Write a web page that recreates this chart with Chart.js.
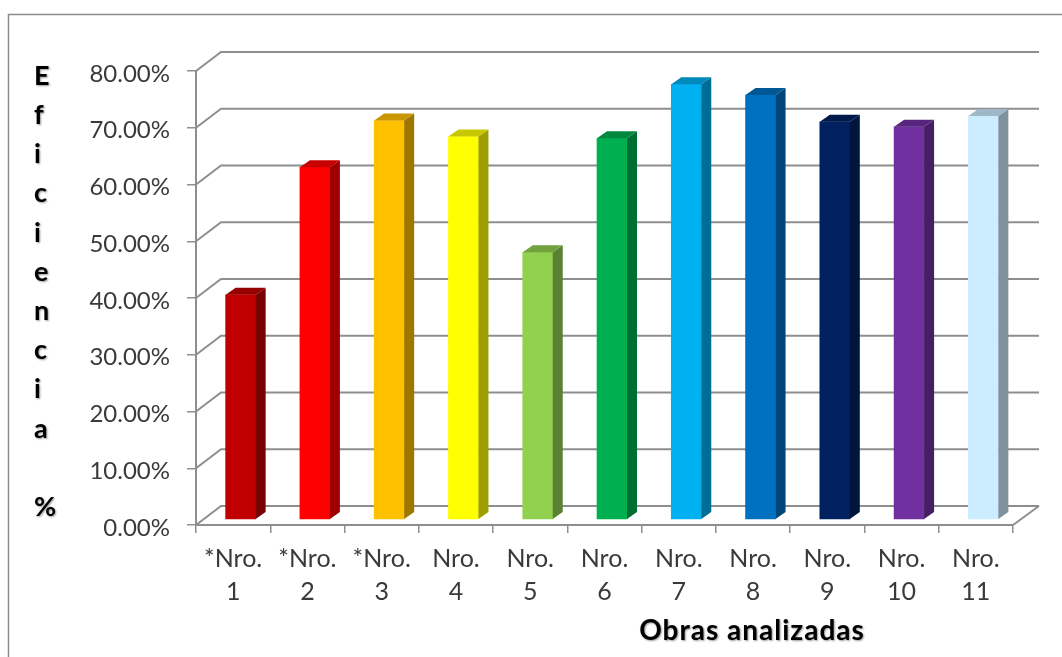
<!DOCTYPE html>
<html>
<head>
<meta charset="utf-8">
<title>Eficiencia</title>
<script src="https://cdn.jsdelivr.net/npm/chart.js@4"></script>
<style>
    html, body { margin: 0; padding: 0; background: #fff; overflow: hidden; }
    canvas { display: block; filter: blur(0.5px); }
</style>
</head>
<body>
<canvas id="barChart" width="1062" height="657"></canvas>
<script>
var categories = [
    ['*Nro.', '1'], ['*Nro.', '2'], ['*Nro.', '3'], ['Nro.', '4'], ['Nro.', '5'], ['Nro.', '6'],
    ['Nro.', '7'], ['Nro.', '8'], ['Nro.', '9'], ['Nro.', '10'], ['Nro.', '11']
];
var efficiency = [39.5, 62, 70.2, 67.4, 47, 67.1, 76.6, 74.7, 70, 69.1, 71];
var barColors = ['#C00000', '#FF0000', '#FFC000', '#FFFF00', '#92D050', '#00B050',
    '#00B0F0', '#0070C0', '#002060', '#7030A0', '#CCECFF'];
var yTitleLetters = ['E', 'f', 'i', 'c', 'i', 'e', 'n', 'c', 'i', 'a', '', '%'];
var xTitle = 'Obras analizadas';

var FONT = 'Lato, sans-serif';
var GRID = '#8e8e8e';

// darken a hex colour for the side and top faces of the bars
function shade(hex, k) {
    var n = parseInt(hex.slice(1), 16);
    var r = Math.round((n >> 16 & 255) * k);
    var g = Math.round((n >> 8 & 255) * k);
    var b = Math.round((n & 255) * k);
    return 'rgb(' + r + ',' + g + ',' + b + ')';
}

function poly(ctx, pts, fill) {
    ctx.beginPath();
    ctx.moveTo(pts[0][0], pts[0][1]);
    for (var i = 1; i < pts.length; i++) {
        ctx.lineTo(pts[i][0], pts[i][1]);
    }
    ctx.closePath();
    ctx.fillStyle = fill;
    ctx.fill();
}

var frame = {
    id: 'frame',
    beforeDraw: function (chart) {
        var ctx = chart.ctx;
        ctx.save();
        ctx.strokeStyle = '#8c8c8c';
        ctx.lineWidth = 1.5;
        ctx.beginPath();
        ctx.moveTo(8.5, 657);
        ctx.lineTo(8.5, 14.5);
        ctx.lineTo(1062, 14.5);
        ctx.stroke();
        ctx.restore();
    }
};

// back wall lines and floor, the flat chart has none of it
var walls = {
    id: 'walls',
    beforeDatasetsDraw: function (chart) {
        var ctx = chart.ctx;
        var area = chart.chartArea;
        var y = chart.scales.y;
        ctx.save();
        ctx.strokeStyle = GRID;
        ctx.lineWidth = 2;
        y.ticks.forEach(function (t) {
            var py = y.getPixelForValue(t.value);
            ctx.beginPath();
            ctx.moveTo(area.left, py);
            ctx.lineTo(area.left + 25, py - 19);
            ctx.lineTo(area.right + 26, py - 19);
            ctx.stroke();
        });
        ctx.beginPath();
        ctx.moveTo(area.right, area.bottom);
        ctx.lineTo(area.right + 26, area.bottom - 19);
        ctx.stroke();
        ctx.restore();
    }
};

var bars3d = {
    id: 'bars3d',
    beforeDatasetsDraw: function (chart) {
        chart.ctx.save();
        chart.ctx.translate(7.5, 0);
    },
    afterDatasetsDraw: function (chart) {
        var ctx = chart.ctx;
        var dx = 10, dy = 7;
        chart.getDatasetMeta(0).data.forEach(function (bar, i) {
            var p = bar.getProps(['x', 'y', 'base', 'width'], true);
            var x0 = p.x - p.width / 2, x1 = p.x + p.width / 2;
            poly(ctx, [[x1, p.y], [x1 + dx, p.y - dy], [x1 + dx, p.base - dy], [x1, p.base]], shade(barColors[i], 0.62));
            poly(ctx, [[x0, p.y], [x0 + dx, p.y - dy], [x1 + dx, p.y - dy], [x1, p.y]], shade(barColors[i], 0.78));
        });
        ctx.restore();
    }
};

var titles = {
    id: 'titles',
    afterDraw: function (chart) {
        var ctx = chart.ctx;
        ctx.save();
        ctx.fillStyle = '#000';
        ctx.shadowColor = 'rgba(0,0,0,0.4)';
        ctx.shadowBlur = 2;
        ctx.shadowOffsetX = 1;
        ctx.shadowOffsetY = 1;
        ctx.textBaseline = 'middle';
        ctx.font = 'bold 27px ' + FONT;
        ctx.textAlign = 'left';
        yTitleLetters.forEach(function (ch, i) {
            ctx.fillText(ch, 34, 76 + i * 39.2);
        });
        ctx.font = 'bold 28px ' + FONT;
        ctx.letterSpacing = '1px';
        ctx.textAlign = 'center';
        ctx.fillText(xTitle, 752, 631);
        ctx.restore();
    }
};

document.addEventListener('DOMContentLoaded', function () {
    var ctx = document.getElementById('barChart').getContext('2d');
    new Chart(ctx, {
        type: 'bar',
        data: {
            labels: categories,
            datasets: [{
                data: efficiency,
                yAxisID: 'yBar',
                backgroundColor: barColors,
                borderWidth: 0,
                barThickness: 30
            }]
        },
        options: {
            responsive: false,
            animation: false,
            layout: { padding: { top: 71, right: 49, left: 0, bottom: 0 } },
            plugins: { legend: { display: false }, tooltip: { enabled: false } },
            scales: {
                x: {
                    offset: true,
                    border: { color: GRID, width: 2 },
                    grid: { drawOnChartArea: false, color: GRID, tickLength: 8, lineWidth: 1.5, offset: true },
                    ticks: {
                        color: '#3a3a3a',
                        font: { family: FONT, size: 25, lineHeight: 1.32 },
                        padding: 9,
                        maxRotation: 0,
                        autoSkip: false
                    },
                    afterFit: function (scale) { scale.height = 132; }
                },
                y: {
                    min: 0,
                    max: 80,
                    border: { color: GRID, width: 2 },
                    grid: { drawOnChartArea: false, color: GRID, tickLength: 9, lineWidth: 1.5 },
                    ticks: {
                        stepSize: 10,
                        color: '#3a3a3a',
                        font: { family: FONT, size: 24 },
                        padding: 17,
                        labelOffset: 3,
                        callback: function (v) { return v.toFixed(2) + '%'; }
                    },
                    afterFit: function (scale) { scale.width = 196; }
                },
                // same units as y, lifted so the bars stand on the floor behind the front edge
                yBar: {
                    display: false,
                    min: -1.057,
                    max: 78.943
                }
            }
        },
        plugins: [frame, walls, bars3d, titles]
    });
});
</script>
</body>
</html>
